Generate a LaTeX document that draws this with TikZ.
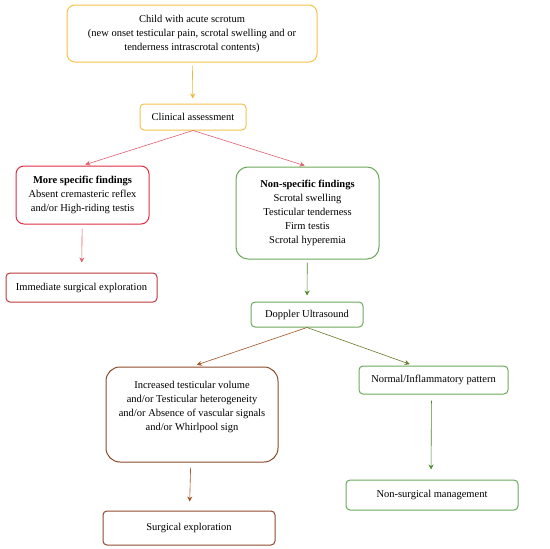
\documentclass[tikz,border=0pt]{standalone}
\usepackage{fontspec}
\setmainfont{Liberation Serif}
\usetikzlibrary{arrows.meta}
\definecolor{gold}{HTML}{F5C24A}
\definecolor{boxred}{HTML}{E22E44}
\definecolor{arrred}{HTML}{E06070}
\definecolor{boxgreen}{HTML}{6AAA5C}
\definecolor{arrgreen}{HTML}{4F8A2E}
\definecolor{boxbrown}{HTML}{8C4B2E}
\definecolor{olive}{HTML}{6B7A2A}
\begin{document}
\begin{tikzpicture}[x=1pt,y=-1pt,>={Stealth[length=5pt,width=5pt]},
    box/.style={draw,line width=1pt,rounded corners=4pt,align=center,inner sep=0pt,
      font=\fontsize{10.5}{14}\selectfont},
    arr/.style={->,semithick}]
  \useasboundingbox[fill=white](0,0)rectangle(550,549);
  %boxes
  \node[box,gold,text=black,rounded corners=8pt,minimum width=250pt,minimum height=57pt](child)at(192,33.5)
    {Child with acute scrotum\\(new onset testicular pain, scrotal swelling and or\\tenderness intrascrotal contents)};
  \node[box,gold,text=black,minimum width=106pt,minimum height=26pt](clin)at(193,117){Clinical assessment};
  \node[box,boxred,text=black,rounded corners=8pt,minimum width=133pt,minimum height=58pt](spec)at(82.5,195)
    {\textbf{More specific findings}\\Absent cremasteric reflex\\and/or High-riding testis};
  \node[box,boxgreen,text=black,rounded corners=12pt,minimum width=143pt,minimum height=92pt](nonspec)at(307.5,213)
    {\textbf{Non-specific findings}\\Scrotal swelling\\Testicular tenderness\\Firm testis\\Scrotal hyperemia};
  \node[box,boxred!60!boxbrown,text=black,minimum width=151pt,minimum height=29pt](immed)at(81.5,287.5){Immediate surgical exploration};
  \node[box,boxgreen,text=black,minimum width=112pt,minimum height=25pt](doppler)at(307,314.5){Doppler Ultrasound};
  \node[box,boxbrown,text=black,rounded corners=14pt,minimum width=172pt,minimum height=95pt](signs)at(192,414.5)
    {Increased testicular volume\\and/or Testicular heterogeneity\\and/or Absence of vascular signals\\and/or Whirlpool sign\\[4pt]\mbox{}};
  \node[box,boxgreen,text=black,minimum width=149pt,minimum height=28pt](normal)at(433.5,380){Normal/Inflammatory pattern};
  \node[box,boxbrown,text=black,minimum width=172pt,minimum height=34pt](surg)at(189,528){Surgical exploration};
  \node[box,boxgreen,text=black,minimum width=172pt,minimum height=30pt](nonsurg)at(432,495){Non-surgical management};
  %arrows
  \draw[arr,gold!80!orange,shorten <=3pt,shorten >=5pt](child)--(clin);
  \draw[arr,arrred,shorten >=3pt](clin.south)--(spec.north);
  \draw[arr,arrred,shorten >=3pt](clin.south)--(nonspec.north);
  \draw[arr,arrred,shorten <=4pt,shorten >=10pt](spec)--(immed);
  \draw[arr,arrgreen,shorten <=3pt,shorten >=6pt](nonspec)--(doppler);
  \draw[arr,boxbrown!80!orange,shorten >=5pt](doppler.south)--(signs.north);
  \draw[arr,olive,shorten >=4pt](doppler.south)--([xshift=-20pt]normal.north);
  \draw[arr,boxbrown!80!orange,shorten <=5pt,shorten >=9pt](signs)--(surg);
  \draw[arr,arrgreen,shorten <=6pt,shorten >=10pt]([xshift=-2pt]normal.south)--([xshift=-1pt]nonsurg.north);
\end{tikzpicture}
\end{document}
